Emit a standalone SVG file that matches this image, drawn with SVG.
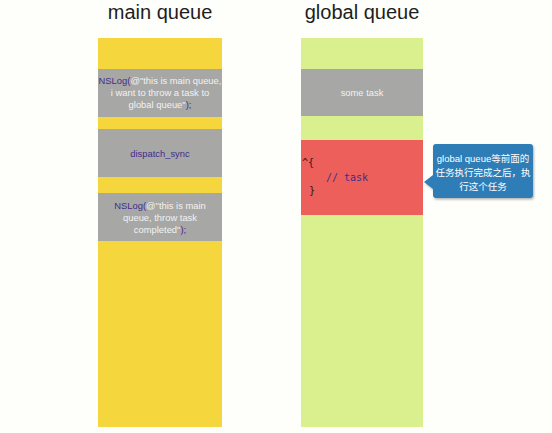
<svg xmlns="http://www.w3.org/2000/svg" width="552" height="433" viewBox="0 0 552 433">
<style>
.title{font-family:"Liberation Sans",Arial,sans-serif;font-size:20px;fill:#1e1e1e;text-anchor:middle}
.box{fill:#a7a7a6}
.t{font-family:"Liberation Sans",Arial,sans-serif;font-size:9.4px;fill:#f2f2f2;text-anchor:middle}
.code{font-family:"DejaVu Sans Mono","Liberation Mono",monospace;font-size:10px;fill:#2a1a1a}
.p{fill:#3f2d8c}
.ct{font-family:"Liberation Sans","Noto Sans CJK SC",sans-serif;font-size:9.5px;fill:#ffffff;text-anchor:middle}
</style>
<defs>
<filter id="sh" x="-10%" y="-10%" width="130%" height="140%"><feDropShadow dx="1" dy="1.5" stdDeviation="1.2" flood-color="#000" flood-opacity="0.3"/></filter>
</defs>
<rect width="552" height="433" fill="#fefefa"/>
<g id="main-queue">
<text class="title" x="160" y="19">main queue</text>
<rect x="98" y="38" width="124" height="389" fill="#f5d73d"/>
</g>
<g id="global-queue">
<text class="title" x="362" y="19">global queue</text>
<rect x="301" y="38" width="122" height="389" fill="#daf08f"/>
</g>
<g id="nslog1">
<rect class="box" x="98" y="69" width="124" height="48"/>
<text class="t" x="160" y="84"><tspan class="p">NSLog(</tspan>@"this is main queue,</text>
<text class="t" x="160" y="96">i want to throw a task to</text>
<text class="t" x="160" y="108">global queue"<tspan class="p">);</tspan></text>
</g>
<g id="dispatch-sync">
<rect class="box" x="98" y="129" width="124" height="48"/>
<text class="t p" x="160" y="157">dispatch_sync</text>
</g>
<g id="nslog2">
<rect class="box" x="98" y="193" width="124" height="48"/>
<text class="t" x="160" y="209"><tspan class="p">NSLog(</tspan>@"this is main</text>
<text class="t" x="160" y="221">queue, throw task</text>
<text class="t" x="160" y="233">completed"<tspan class="p">);</tspan></text>
</g>
<g id="some-task">
<rect class="box" x="301" y="69" width="122" height="47"/>
<text class="t" x="362" y="96">some task</text>
</g>
<g id="block">
<rect x="301" y="140" width="122" height="75" fill="#ec5f5a"/>
<text class="code" x="302" y="166">^{</text>
<text class="code p" x="326" y="181">// task</text>
<text class="code" x="309" y="194">}</text>
</g>
<g id="callout">
<path d="M436,144 H530 Q533,144 533,147 V195 Q533,198 530,198 H436 Q433,198 433,195 V189 L424,182 L433,175 V147 Q433,144 436,144 Z" fill="#2f7db6" filter="url(#sh)"/>
<text class="ct" x="483" y="162">global queue等前面的</text>
<text class="ct" x="483" y="176">任务执行完成之后，执</text>
<text class="ct" x="483" y="190">行这个任务</text>
</g>
<g id="connectors"/>
</svg>
